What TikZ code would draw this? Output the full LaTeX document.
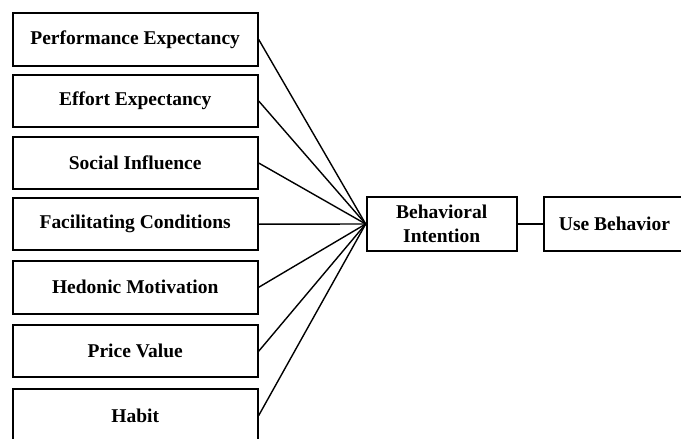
\documentclass[tikz,border=0pt]{standalone}
\usepackage{fontspec}
\setmainfont{Liberation Serif}
\begin{document}
\begin{tikzpicture}[x=1pt,y=-1pt,
  factor/.style={draw, line width=2pt, minimum width=245pt, minimum height=52.5pt,
    inner sep=0pt, font=\fontsize{19.5}{24}\selectfont\bfseries},
  outcome/.style={draw, line width=2pt, minimum height=54pt, inner sep=0pt,
    align=center, font=\fontsize{19.5}{24}\selectfont\bfseries},
  link/.style={line width=1.4pt}]
\useasboundingbox (0,0) rectangle (681,439);
\begin{scope}
\clip (0,0) rectangle (681,439);
% predictor constructs
\node[factor] (pe) at (135.2,39.5)  {Performance Expectancy};
\node[factor] (ee) at (135.2,101)   {Effort Expectancy};
\node[factor] (si) at (135.2,163)   {Social Influence};
\node[factor] (fc) at (135.2,224.2) {Facilitating Conditions};
\node[factor] (hm) at (135.2,287.3) {Hedonic Motivation};
\node[factor] (pv) at (135.2,351.2) {Price Value};
\node[factor] (hb) at (135.2,415.5) {Habit};
% outcome constructs
\node[outcome, minimum width=150pt] (bi) at (441.7,224) {Behavioral\\Intention};
\node[outcome, minimum width=144pt] (ub) at (615.5,224) {\hspace*{-2pt}Use Behavior};
% paths
\foreach \n in {pe,ee,si,fc,hm,pv,hb}
  \draw[link] (\n.east) -- (bi.west);
\draw[link] (bi.east) -- (ub.west);
\end{scope}
\end{tikzpicture}
\end{document}
